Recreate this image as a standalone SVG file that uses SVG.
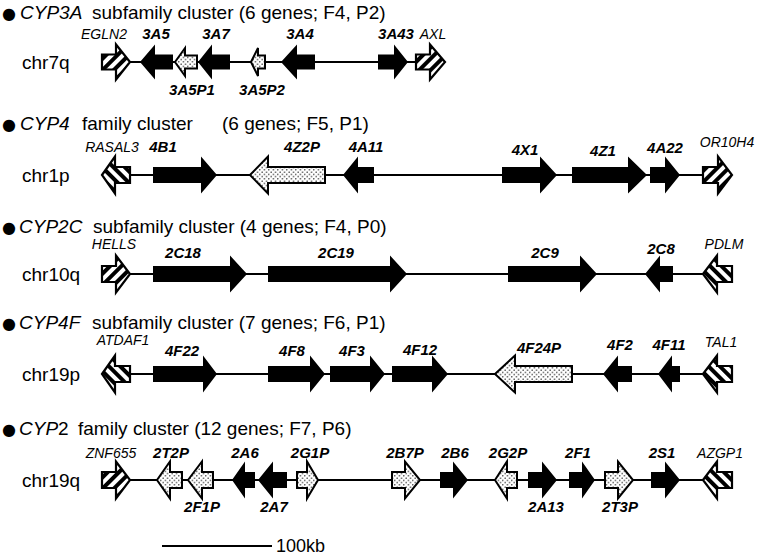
<svg xmlns="http://www.w3.org/2000/svg" width="758" height="555" viewBox="0 0 758 555">
<style>
.t{font-family:"Liberation Sans",Arial,sans-serif;fill:#000}
.ttl{font-size:19px}
.it{font-style:italic}
.bul{font-family:"DejaVu Sans",sans-serif;font-size:16px}
.chr{font-size:19px}
.gl{font-size:15px;font-style:italic;font-weight:bold;text-anchor:middle}
.nl{font-size:14px;font-style:italic;text-anchor:middle}
.blk{fill:#000}
.dot{fill:url(#dots);stroke:#000;stroke-width:2}
.hr{fill:url(#hatchR);stroke:#000;stroke-width:2.2}
.hl{fill:url(#hatchL);stroke:#000;stroke-width:2.2}
.bb{stroke:#000;stroke-width:1.8;fill:none}
</style>
<defs>
<pattern id="dots" width="4.5" height="4.5" patternUnits="userSpaceOnUse">
<rect width="4.5" height="4.5" fill="#fff"/>
<circle cx="1.1" cy="1.1" r="0.7" fill="#000"/>
<circle cx="3.35" cy="3.35" r="0.7" fill="#000"/>
</pattern>
<pattern id="hatchR" width="8" height="8" patternUnits="userSpaceOnUse" patternTransform="rotate(45)">
<rect width="8" height="8" fill="#fff"/>
<rect width="4" height="8" fill="#000"/>
</pattern>
<pattern id="hatchL" width="8" height="8" patternUnits="userSpaceOnUse" patternTransform="rotate(-45)">
<rect width="8" height="8" fill="#fff"/>
<rect width="4" height="8" fill="#000"/>
</pattern>
</defs>
<rect width="758" height="555" fill="#fff"/>

<g id="titles" class="t">
<text class="ttl" y="19"><tspan class="bul" x="2">●</tspan><tspan class="it" x="20">CYP3A</tspan><tspan x="92">subfamily cluster (6 genes; F4, P2)</tspan></text>
<text class="ttl" y="130"><tspan class="bul" x="2">●</tspan><tspan class="it" x="20">CYP4</tspan><tspan x="82">family cluster</tspan><tspan x="222">(6 genes; F5, P1)</tspan></text>
<text class="ttl" y="233"><tspan class="bul" x="2">●</tspan><tspan class="it" x="19">CYP2C</tspan><tspan x="93">subfamily cluster (4 genes; F4, P0)</tspan></text>
<text class="ttl" y="329"><tspan class="bul" x="2">●</tspan><tspan class="it" x="19">CYP4F</tspan><tspan x="92">subfamily cluster (7 genes; F6, P1)</tspan></text>
<text class="ttl" y="435"><tspan class="bul" x="2">●</tspan><tspan class="it" x="19">CYP</tspan><tspan>2</tspan><tspan x="78">family cluster (12 genes; F7, P6)</tspan></text>
</g>

<g id="chromosomes" class="t chr">
<text x="22" y="69">chr7q</text>
<text x="22" y="182">chr1p</text>
<text x="22" y="281">chr10q</text>
<text x="22" y="381">chr19p</text>
<text x="22" y="487">chr19q</text>
</g>

<g id="connectors">
<line class="bb" x1="130" y1="62" x2="415" y2="62"/>
<line class="bb" x1="130" y1="175" x2="703" y2="175"/>
<line class="bb" x1="130" y1="274" x2="703" y2="274"/>
<line class="bb" x1="130" y1="374" x2="703" y2="374"/>
<line class="bb" x1="130" y1="480" x2="703" y2="480"/>
</g>

<!-- Row 1 -->
<g id="EGLN2"><polygon class="hr" points="102,54.5 116,54.5 116,44.5 130,62 116,79.5 116,69.5 102,69.5"/><text class="t nl" x="104" y="39">EGLN2</text></g>
<g id="CYP3A5"><polygon class="blk" points="140,62 155,44.5 155,54.5 173,54.5 173,69.5 155,69.5 155,79.5"/><text class="t gl" x="156" y="39">3A5</text></g>
<g id="CYP3A5P1"><polygon class="dot" points="175,62 185,48 185,55.5 197,55.5 197,68.5 185,68.5 185,76"/><text class="t gl" x="192" y="95">3A5P1</text></g>
<g id="CYP3A7"><polygon class="blk" points="198,62 212,44.5 212,54.5 230,54.5 230,69.5 212,69.5 212,79.5"/><text class="t gl" x="216" y="39">3A7</text></g>
<g id="CYP3A5P2"><polygon class="dot" points="251,62 258,48 258,55.5 265,55.5 265,68.5 258,68.5 258,76"/><text class="t gl" x="262" y="95">3A5P2</text></g>
<g id="CYP3A4"><polygon class="blk" points="281,62 297,44.5 297,54.5 315,54.5 315,69.5 297,69.5 297,79.5"/><text class="t gl" x="300" y="39">3A4</text></g>
<g id="CYP3A43"><polygon class="blk" points="378,54.5 394,54.5 394,44.5 408,62 394,79.5 394,69.5 378,69.5"/><text class="t gl" x="396" y="39">3A43</text></g>
<g id="AXL"><polygon class="hr" points="416,54.5 430,54.5 430,44.5 445,62 430,79.5 430,69.5 416,69.5"/><text class="t nl" x="433" y="39">AXL</text></g>

<!-- Row 2 -->
<g id="RASAL3"><polygon class="hl" points="102,175 115,156.5 115,167 130,167 130,183 115,183 115,193.5"/><text class="t nl" x="112" y="152">RASAL3</text></g>
<g id="CYP4B1"><polygon class="blk" points="153,167 201,167 201,156.5 217,175 201,193.5 201,183 153,183"/><text class="t gl" x="163" y="152">4B1</text></g>
<g id="CYP4Z2P"><polygon class="dot" points="250,175 268,156.5 268,167 325,167 325,183 268,183 268,193.5"/><text class="t gl" x="302" y="152">4Z2P</text></g>
<g id="CYP4A11"><polygon class="blk" points="343,175 358,156.5 358,167 374,167 374,183 358,183 358,193.5"/><text class="t gl" x="366" y="152">4A11</text></g>
<g id="CYP4X1"><polygon class="blk" points="502,167 540,167 540,156.5 557,175 540,193.5 540,183 502,183"/><text class="t gl" x="525" y="155">4X1</text></g>
<g id="CYP4Z1"><polygon class="blk" points="572,167 628,167 628,156.5 647,175 628,193.5 628,183 572,183"/><text class="t gl" x="603" y="156">4Z1</text></g>
<g id="CYP4A22"><polygon class="blk" points="650,167 665,167 665,156.5 680,175 665,193.5 665,183 650,183"/><text class="t gl" x="665" y="153">4A22</text></g>
<g id="OR10H4"><polygon class="hr" points="703,167 718,167 718,156.5 732,175 718,193.5 718,183 703,183"/><text class="t nl" x="727" y="147">OR10H4</text></g>

<!-- Row 3 -->
<g id="HELLS"><polygon class="hr" points="102,266 116,266 116,255.5 130,274 116,292.5 116,282 102,282"/><text class="t nl" x="114" y="249">HELLS</text></g>
<g id="CYP2C18"><polygon class="blk" points="153,266 230,266 230,255.5 247,274 230,292.5 230,282 153,282"/><text class="t gl" x="183" y="258">2C18</text></g>
<g id="CYP2C19"><polygon class="blk" points="268,266 390,266 390,255.5 407,274 390,292.5 390,282 268,282"/><text class="t gl" x="336" y="258">2C19</text></g>
<g id="CYP2C9"><polygon class="blk" points="508,266 580,266 580,255.5 597,274 580,292.5 580,282 508,282"/><text class="t gl" x="545" y="258">2C9</text></g>
<g id="CYP2C8"><polygon class="blk" points="645,274 660,255.5 660,266 673,266 673,282 660,282 660,292.5"/><text class="t gl" x="661" y="254">2C8</text></g>
<g id="PDLM"><polygon class="hl" points="703,274 717,255.5 717,266 732,266 732,282 717,282 717,292.5"/><text class="t nl" x="724" y="249">PDLM</text></g>

<!-- Row 4 -->
<g id="ATDAF1"><polygon class="hl" points="102,374 115,355.5 115,366 130,366 130,382 115,382 115,392.5"/><text class="t nl" x="123" y="345">ATDAF1</text></g>
<g id="CYP4F22"><polygon class="blk" points="153,366 203,366 203,355.5 217,374 203,392.5 203,382 153,382"/><text class="t gl" x="182" y="356">4F22</text></g>
<g id="CYP4F8"><polygon class="blk" points="268,366 310,366 310,355.5 325,374 310,392.5 310,382 268,382"/><text class="t gl" x="292" y="356">4F8</text></g>
<g id="CYP4F3"><polygon class="blk" points="330,366 370,366 370,355.5 385,374 370,392.5 370,382 330,382"/><text class="t gl" x="352" y="356">4F3</text></g>
<g id="CYP4F12"><polygon class="blk" points="392,366 432,366 432,355.5 448,374 432,392.5 432,382 392,382"/><text class="t gl" x="420" y="355">4F12</text></g>
<g id="CYP4F24P"><polygon class="dot" points="495,374 515,355.5 515,366 572,366 572,382 515,382 515,392.5"/><text class="t gl" x="539" y="353">4F24P</text></g>
<g id="CYP4F2"><polygon class="blk" points="603,374 618,355.5 618,366 632,366 632,382 618,382 618,392.5"/><text class="t gl" x="620" y="350">4F2</text></g>
<g id="CYP4F11"><polygon class="blk" points="658,374 672,355.5 672,366 680,366 680,382 672,382 672,392.5"/><text class="t gl" x="669" y="350">4F11</text></g>
<g id="TAL1"><polygon class="hl" points="703,374 717,355.5 717,366 732,366 732,382 717,382 717,392.5"/><text class="t nl" x="721" y="347">TAL1</text></g>

<!-- Row 5 -->
<g id="ZNF655"><polygon class="hr" points="102,472 116,472 116,461.5 130,480 116,498.5 116,488 102,488"/><text class="t nl" x="111" y="458">ZNF655</text></g>
<g id="CYP2T2P"><polygon class="dot" points="157,480 170,461.5 170,472 182,472 182,488 170,488 170,498.5"/><text class="t gl" x="171" y="458">2T2P</text></g>
<g id="CYP2F1P"><polygon class="dot" points="188,480 202,461.5 202,472 213,472 213,488 202,488 202,498.5"/><text class="t gl" x="202" y="512">2F1P</text></g>
<g id="CYP2A6"><polygon class="blk" points="232,480 245,461.5 245,472 255,472 255,488 245,488 245,498.5"/><text class="t gl" x="245" y="458">2A6</text></g>
<g id="CYP2A7"><polygon class="blk" points="258,480 273,461.5 273,472 287,472 287,488 273,488 273,498.5"/><text class="t gl" x="274" y="512">2A7</text></g>
<g id="CYP2G1P"><polygon class="dot" points="297,472 307,472 307,461.5 318,480 307,498.5 307,488 297,488"/><text class="t gl" x="310" y="458">2G1P</text></g>
<g id="CYP2B7P"><polygon class="dot" points="392,472 405,472 405,461.5 420,480 405,498.5 405,488 392,488"/><text class="t gl" x="405" y="458">2B7P</text></g>
<g id="CYP2B6"><polygon class="blk" points="440,472 453,472 453,461.5 468,480 453,498.5 453,488 440,488"/><text class="t gl" x="455" y="458">2B6</text></g>
<g id="CYP2G2P"><polygon class="dot" points="495,480 507,461.5 507,472 517,472 517,488 507,488 507,498.5"/><text class="t gl" x="508" y="458">2G2P</text></g>
<g id="CYP2A13"><polygon class="blk" points="528,472 542,472 542,461.5 557,480 542,498.5 542,488 528,488"/><text class="t gl" x="546" y="512">2A13</text></g>
<g id="CYP2F1"><polygon class="blk" points="569,472 582,472 582,461.5 595,480 582,498.5 582,488 569,488"/><text class="t gl" x="578" y="458">2F1</text></g>
<g id="CYP2T3P"><polygon class="dot" points="605,472 618,472 618,461.5 633,480 618,498.5 618,488 605,488"/><text class="t gl" x="620" y="512">2T3P</text></g>
<g id="CYP2S1"><polygon class="blk" points="651,472 665,472 665,461.5 680,480 665,498.5 665,488 651,488"/><text class="t gl" x="662" y="458">2S1</text></g>
<g id="AZGP1"><polygon class="hl" points="703,480 717,461.5 717,472 732,472 732,488 717,488 717,498.5"/><text class="t nl" x="720" y="458">AZGP1</text></g>

<g id="scalebar">
<line class="bb" x1="162" y1="546" x2="272" y2="546"/>
<text class="t" x="276" y="552" font-size="18">100kb</text>
</g>
</svg>
